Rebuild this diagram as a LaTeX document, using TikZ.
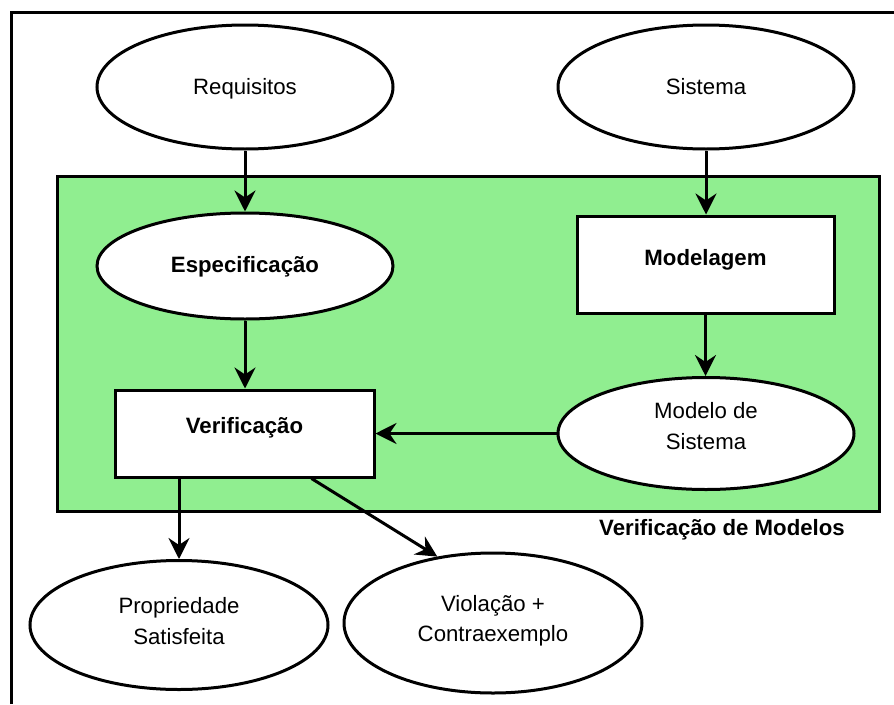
\documentclass[tikz,border=0pt]{standalone}
\usepackage{fontspec}
\setmainfont{Liberation Sans}
\usetikzlibrary{shapes.geometric,arrows.meta,calc}
\definecolor{paneGreen}{RGB}{144,238,144}
\begin{document}
\begin{tikzpicture}[x=1pt,y=-1pt,
  every node/.style={font=\fontsize{22.2}{30.5}\selectfont, align=center, inner sep=0pt},
  oval/.style={ellipse, draw=black, line width=3pt, fill=white},
  box/.style={rectangle, draw=black, line width=3pt, fill=white},
  bold/.style={font=\fontsize{22.2}{30.5}\selectfont\bfseries},
  arr/.style={line width=3pt, -{Stealth[length=21pt,width=21pt,inset=7pt]}},
  frame/.style={line width=3pt}
]
\useasboundingbox (0,0) rectangle (894,704);

% outer frame (only top and left edges fall inside the page)
\draw[frame] (11.5,704) -- (11.5,12.5) -- (894,12.5);

% green model-checking region
\node[rectangle, draw=black, line width=3pt, fill=paneGreen,
      minimum width=822pt, minimum height=335pt] (region) at (468,343.5) {};
\node[bold, anchor=base] (regionlbl) at (722,535) {Verificação de Modelos};

% inputs
\node[oval, minimum width=296pt, minimum height=124pt] (req) at (245,87) {};
\node (reql) at (245,89) {Requisitos};
\node[oval, minimum width=296pt, minimum height=124pt] (sys) at (706,87) {Sistema};

% inside the region
\node[oval, minimum width=296pt, minimum height=106pt] (spec) at (245,266) {};
\node[bold] (specl) at (245,267) {Especificação};
\node[box, minimum width=257pt, minimum height=97pt] (mdl) at (705.5,264.5) {};
\node[bold] (mdll) at (705.5,260) {Modelagem};
\node[box, minimum width=259pt, minimum height=87pt] (ver) at (244.5,433.5) {};
\node[bold] (verl) at (244.5,428) {Verificação};
\node[oval, minimum width=296pt, minimum height=112pt] (msys) at (706,433.5) {};
\node (msysl) at (706,426) {Modelo de\\Sistema};

% outcomes
\node[oval, minimum width=298pt, minimum height=129pt] (prop) at (179,625) {};
\node (propl) at (179,621) {Propriedade\\Satisfeita};
\node[oval, minimum width=298pt, minimum height=140pt] (viol) at (493,623) {};
\node (violl) at (493,621) {Violação +\\Contraexemplo};

% connectors
\draw[arr] (req.south) -- (req.south |- spec.north);
\draw[arr] (sys.south) -- (sys.south |- mdl.north);
\draw[arr] (spec.south) -- (spec.south |- ver.north);
\draw[arr] (mdl.south) -- (mdl.south |- msys.north);
\draw[arr] (msys.west) -- (ver.east);
\draw[arr] (ver.south -| prop.north) -- (prop.north);
\coordinate (vdiag) at ($(ver.south east)+(-64,0)$);
\draw[arr] (vdiag) -- (viol.130);
\end{tikzpicture}
\end{document}
